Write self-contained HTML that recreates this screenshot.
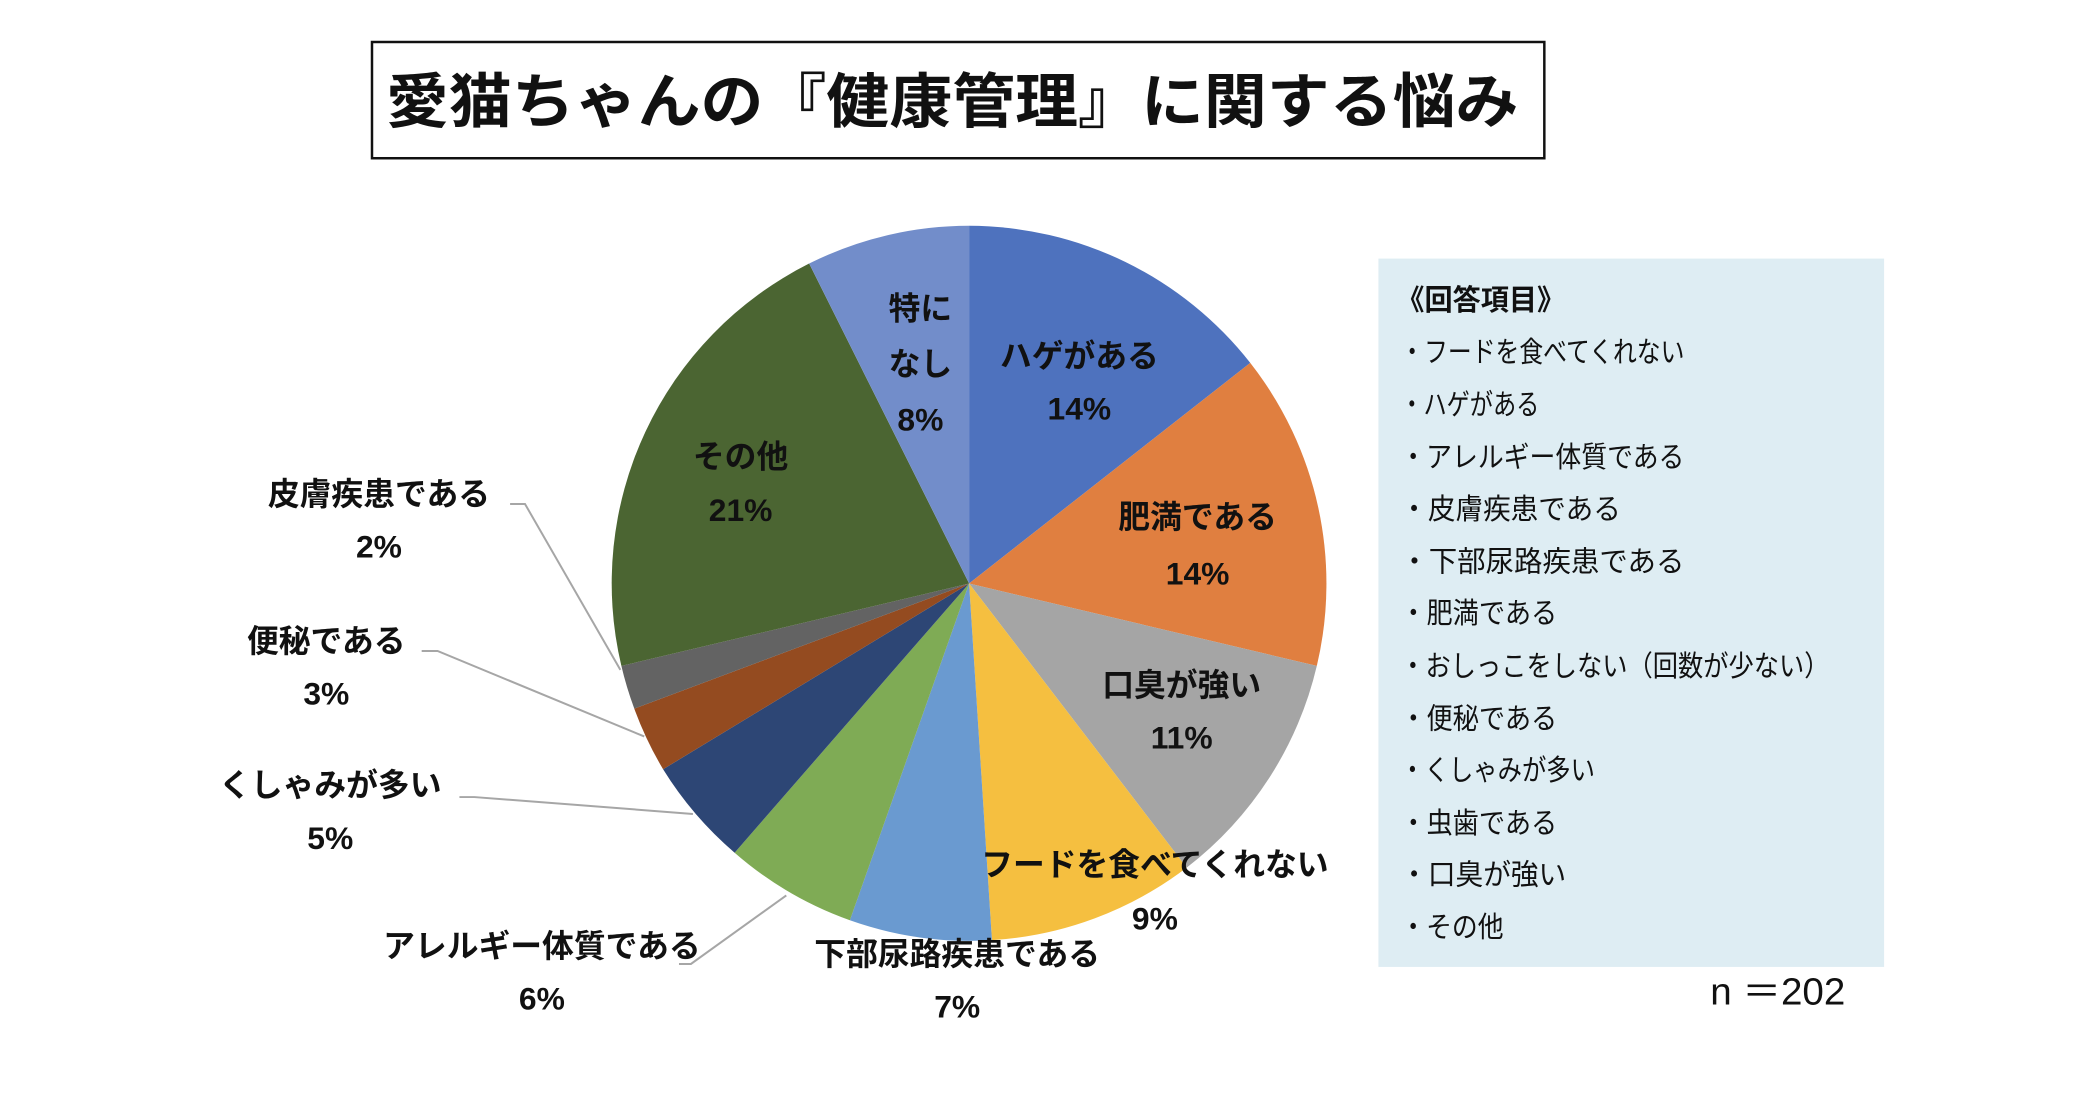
<!DOCTYPE html>
<html><head><meta charset="utf-8"><style>
html,body{margin:0;padding:0;background:#fff;}
svg{display:block;}
text{font-family:"Liberation Sans","Noto Sans CJK JP",sans-serif;fill:#111;}
.b{font-weight:bold;}
</style></head><body>
<svg width="2082" height="1112" viewBox="0 0 2082 1112" xmlns="http://www.w3.org/2000/svg">
<rect x="0" y="0" width="2082" height="1112" fill="#fff"/>
<g transform="translate(372,42) scale(0.9935) translate(-372,-42)">
<rect x="372" y="42" width="1180" height="117" fill="#fff" stroke="#111" stroke-width="2.5"/>
<text x="386" y="123" class="b" font-size="60" textLength="1140" lengthAdjust="spacingAndGlyphs">愛猫ちゃんの『健康管理』に関する悩み</text>

<g stroke="none">
<path d="M973,587 L973,227 A360,360 0 0,1 1256,365 Z" fill="#4e72be"/>
<path d="M973,587 L1256,365 A360,360 0 0,1 1323,670 Z" fill="#e07f40"/>
<path d="M973,587 L1323,670 A360,360 0 0,1 1192,873 Z" fill="#a5a5a5"/>
<path d="M973,587 L1192,873 A360,360 0 0,1 996,946 Z" fill="#f5bf40"/>
<path d="M973,587 L996,946 A360,360 0 0,1 853,926 Z" fill="#6a9ad0"/>
<path d="M973,587 L853,926 A360,360 0 0,1 737,858 Z" fill="#7fab55"/>
<path d="M973,587 L737,858 A360,360 0 0,1 665,774 Z" fill="#2d4675"/>
<path d="M973,587 L665,774 A360,360 0 0,1 636,713 Z" fill="#944b20"/>
<path d="M973,587 L636,713 A360,360 0 0,1 623,670 Z" fill="#636363"/>
<path d="M973,587 L623,670 A360,360 0 0,1 812,265 Z" fill="#4b6532"/>
<path d="M973,587 L812,265 A360,360 0 0,1 973,227 Z" fill="#728dca"/>
</g>

<g stroke="#a6a6a6" stroke-width="2" fill="none">
<polyline points="511,507 526,507 622,674"/>
<polyline points="422,655 438,655 646,741"/>
<polyline points="460,802 475,802 695,819"/>
<polyline points="681,970 693,970 789,901"/>
</g>

<g class="b" font-size="32" text-anchor="middle" dominant-baseline="central">
<text x="924" y="310">特に</text>
<text x="924" y="366">なし</text>
<text x="924" y="422">8%</text>
<text x="1084" y="358">ハゲがある</text>
<text x="1084" y="411">14%</text>
<text x="1203" y="520">肥満である</text>
<text x="1203" y="577">14%</text>
<text x="1187" y="689">口臭が強い</text>
<text x="1187" y="742">11%</text>
<text x="1160" y="870">フードを食べてくれない</text>
<text x="1160" y="924">9%</text>
<text x="961" y="960">下部尿路疾患である</text>
<text x="961" y="1013">7%</text>
<text x="543" y="952">アレルギー体質である</text>
<text x="543" y="1005">6%</text>
<text x="330" y="790">くしゃみが多い</text>
<text x="330" y="843">5%</text>
<text x="326" y="645">便秘である</text>
<text x="326" y="698">3%</text>
<text x="379" y="497">皮膚疾患である</text>
<text x="379" y="550">2%</text>
<text x="743" y="459">その他</text>
<text x="743" y="513">21%</text>
</g>

<rect x="1385" y="260" width="509" height="713" fill="#deedf3"/>
<g font-size="29">
<text x="1403" y="312" class="b" textLength="170" lengthAdjust="spacingAndGlyphs">《回答項目》</text>
<text x="1407" y="364" textLength="286" lengthAdjust="spacingAndGlyphs">・フードを食べてくれない</text>
<text x="1407" y="417" textLength="140" lengthAdjust="spacingAndGlyphs">・ハゲがある</text>
<text x="1407" y="470" textLength="286" lengthAdjust="spacingAndGlyphs">・アレルギー体質である</text>
<text x="1407" y="522" textLength="222" lengthAdjust="spacingAndGlyphs">・皮膚疾患である</text>
<text x="1407" y="575" textLength="286" lengthAdjust="spacingAndGlyphs">・下部尿路疾患である</text>
<text x="1407" y="627" textLength="158" lengthAdjust="spacingAndGlyphs">・肥満である</text>
<text x="1407" y="680" textLength="432" lengthAdjust="spacingAndGlyphs">・おしっこをしない（回数が少ない）</text>
<text x="1407" y="733" textLength="158" lengthAdjust="spacingAndGlyphs">・便秘である</text>
<text x="1407" y="785" textLength="196" lengthAdjust="spacingAndGlyphs">・くしゃみが多い</text>
<text x="1407" y="838" textLength="158" lengthAdjust="spacingAndGlyphs">・虫歯である</text>
<text x="1407" y="890" textLength="167" lengthAdjust="spacingAndGlyphs">・口臭が強い</text>
<text x="1407" y="943" textLength="104" lengthAdjust="spacingAndGlyphs">・その他</text>
</g>
<text x="1719" y="1011" font-size="38" textLength="136" lengthAdjust="spacingAndGlyphs">n ＝202</text>
</g>
</svg>
</body></html>
